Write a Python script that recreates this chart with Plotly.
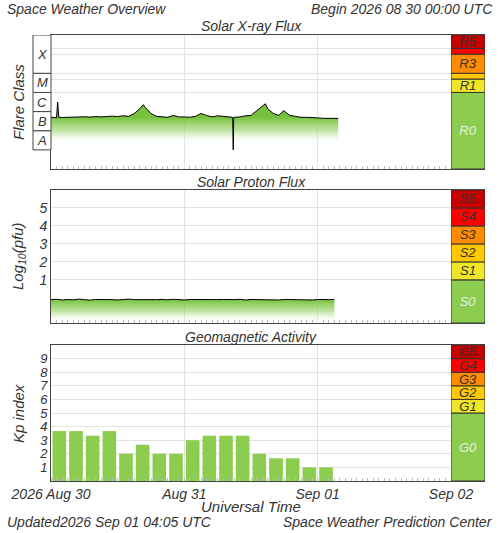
import numpy as np
import pandas as pd
import plotly.graph_objects as go

# ---- data ----
t0 = pd.Timestamp("2026-08-30 00:00")

xray_hours = [0, 1, 1.2, 1.4, 2, 3, 4, 5, 6, 7, 8, 9, 10, 11, 12, 13, 14, 15, 16, 16.6, 17, 18, 19, 20,
              21, 22, 23, 24, 25, 26, 27, 28, 29, 30, 31, 32, 32.7, 32.8, 32.9, 34, 35, 36, 37, 38, 38.6,
              39, 40, 41, 41.9, 42.5, 43, 44, 45, 46, 47, 48, 49, 50, 51, 51.7]
xray_log10 = [-6.30, -6.32, -5.50, -6.30, -6.31, -6.30, -6.28, -6.30, -6.27, -6.29, -6.26, -6.28, -6.25,
              -6.24, -6.26, -6.22, -6.25, -6.10, -5.85, -5.64, -5.80, -6.10, -6.25, -6.27, -6.30, -6.20,
              -6.28, -6.28, -6.30, -6.25, -6.10, -6.20, -6.28, -6.22, -6.25, -6.28, -6.30, -8.00, -6.30,
              -6.28, -6.22, -6.20, -5.95, -5.75, -5.59, -5.85, -6.10, -6.20, -5.95, -6.10, -6.20, -6.25,
              -6.30, -6.30, -6.33, -6.33, -6.35, -6.34, -6.36, -6.36]

proton_hours = list(range(0, 52))
proton_log10 = [-0.10, -0.08, -0.12, -0.09, -0.11, -0.07, -0.10, -0.13, -0.09, -0.08, -0.11, -0.10,
                -0.12, -0.09, -0.07, -0.10, -0.11, -0.08, -0.12, -0.10, -0.09, -0.11, -0.08, -0.10,
                -0.12, -0.09, -0.10, -0.11, -0.08, -0.13, -0.10, -0.09, -0.11, -0.10, -0.08, -0.12,
                -0.09, -0.10, -0.11, -0.08, -0.10, -0.12, -0.09, -0.10, -0.11, -0.08, -0.10, -0.12,
                -0.09, -0.11, -0.10, -0.09]

kp_hours = [1.5 + 3 * i for i in range(17)]
kp_values = [3.67, 3.67, 3.33, 3.67, 2.0, 2.67, 2.0, 2.0, 3.0, 3.33, 3.33, 3.33, 2.0, 1.67, 1.67, 1.0, 1.0]

r_labels = ["R0", "R1", "", "R3", "", "R5"]
r_bounds = [-9, -5, np.log10(5e-5), -4, -3, np.log10(2e-3), -2]
s_labels = ["S0", "S1", "S2", "S3", "S4", "S5"]
s_bounds = [-1.4, 1, 2, 3, 4, 5, 6]
g_labels = ["G0", "G1", "G2", "G3", "G4", "G5"]
g_bounds = [0, 5, 6, 7, 8, 9, 10]
scale_colors = ["#8ccd50", "#f0e628", "#ffc800", "#ff8c00", "#ff0000", "#c80000"]

flare_classes = ["A", "B", "C", "M", "X"]
flare_bounds = [-8, -7, -6, -5, -4, -2]

def hrs(h):
    return [t0 + pd.Timedelta(hours=x) for x in h]

FONT = "Liberation Sans"
TXT = "#333333"
ital = dict(family=FONT, style="italic", color=TXT)
green_fade = [[0, "rgba(255,255,255,0)"], [0.5, "rgba(150,210,100,0.6)"], [1, "rgba(110,190,50,0.95)"]]

fig = go.Figure()

# xray
xt = hrs(xray_hours)
fig.add_trace(go.Scatter(x=xt, y=[-9] * len(xt), mode="lines", line=dict(width=0),
                         showlegend=False, hoverinfo="skip", xaxis="x", yaxis="y"))
fig.add_trace(go.Scatter(x=xt, y=xray_log10, mode="lines", line=dict(color="black", width=1),
                         fill="tonexty",
                         fillgradient=dict(type="vertical", start=-7.7, stop=-6.3, colorscale=green_fade),
                         showlegend=False, xaxis="x", yaxis="y"))

# protons
pt = hrs(proton_hours)
fig.add_trace(go.Scatter(x=pt, y=[-1.4] * len(pt), mode="lines", line=dict(width=0),
                         showlegend=False, hoverinfo="skip", xaxis="x3", yaxis="y3"))
fig.add_trace(go.Scatter(x=pt, y=proton_log10, mode="lines", line=dict(color="black", width=1),
                         fill="tonexty",
                         fillgradient=dict(type="vertical", start=-1.4, stop=-0.1, colorscale=green_fade),
                         showlegend=False, xaxis="x3", yaxis="y3"))

# kp bars
fig.add_trace(go.Bar(x=hrs(kp_hours), y=kp_values, width=2.45 * 3600 * 1000,
                     marker=dict(color="#8ccd50", line=dict(width=0)),
                     showlegend=False, xaxis="x5", yaxis="y5"))

# scale columns
for labels, bounds, xa, ya in [(r_labels, r_bounds, "x2", "y"),
                               (s_labels, s_bounds, "x4", "y3"),
                               (g_labels, g_bounds, "x6", "y5")]:
    for i, lab in enumerate(labels):
        fig.add_trace(go.Bar(x=["s"], y=[bounds[i + 1] - bounds[i]], base=[bounds[i]], width=1,
                             marker=dict(color=scale_colors[i], line=dict(color="#333", width=1)),
                             text=[lab], textposition="inside", insidetextanchor="middle", textangle=0,
                             textfont=dict(family=FONT, style="italic", size=13,
                                           color="#e8f0e0" if i == 0 else "#333"),
                             showlegend=False, xaxis=xa, yaxis=ya))

split = 400 / 434
doms = {"": [312 / 446, 1], "3": [158 / 446, 291 / 446], "5": [0, 136 / 446]}
xrange_ = [t0, t0 + pd.Timedelta(days=3)]
common_x = dict(type="date", range=xrange_, showgrid=True, gridcolor="#e2e2e2", dtick=86400000,
                showline=True, linecolor="#444", mirror=True, ticks="", automargin=False,
                minor=dict(ticks="inside", ticklen=3, tickcolor="#bbb", dtick=3600000, showgrid=False),
                zeroline=False)
layout = dict(width=500, height=533, margin=dict(l=51, r=15, t=35, b=52, autoexpand=False),
              plot_bgcolor="white", paper_bgcolor="white", barmode="overlay",
              uniformtext=dict(minsize=13, mode="show"),
              font=dict(family=FONT, size=13, color=TXT, style="italic"))
pairs = [("x", "y", "x2", "", "2"), ("x3", "y3", "x4", "3", "4"), ("x5", "y5", "x6", "5", "6")]
for xa, ya, xs, yn, xsn in pairs:
    k = "xaxis" + ("" if xa == "x" else xa[1:])
    layout[k] = dict(common_x, domain=[0, split], anchor=ya, showticklabels=(xa == "x5"))
    layout["xaxis" + xsn] = dict(domain=[split, 1], anchor=ya, showticklabels=False, showgrid=False,
                                 showline=True, linecolor="#444", mirror=True, fixedrange=True,
                                 automargin=False)
layout["xaxis5"].update(tickvals=[t0 + pd.Timedelta(days=d) for d in range(4)],
                        ticktext=["2026 Aug 30", "Aug 31", "Sep 01", "Sep 02"],
                        tickfont=dict(size=14))
layout["yaxis"] = dict(domain=doms[""], range=[-9, -2], tickvals=[-5, np.log10(5e-5), -4, -3, np.log10(2e-3)],
                       showticklabels=False, gridcolor="#e2e2e2", showline=True, linecolor="#444",
                       mirror=True, zeroline=False, automargin=False)
layout["yaxis3"] = dict(domain=doms["3"], range=[-1.4, 6], tickvals=[1, 2, 3, 4, 5],
                        gridcolor="#e2e2e2", showline=True, linecolor="#444", mirror=True,
                        zeroline=False, tickfont=dict(size=14), automargin=False)
layout["yaxis5"] = dict(domain=doms["5"], range=[0, 10], tickvals=list(range(1, 10)),
                        gridcolor="#e2e2e2", showline=True, linecolor="#444", mirror=True,
                        zeroline=False, tickfont=dict(size=13), automargin=False)
fig.update_layout(**layout)

# flare class boxes
bx0 = -18 / 434
for i, c in enumerate(flare_classes):
    fig.add_shape(type="rect", xref="paper", yref="y", x0=bx0, x1=0, y0=flare_bounds[i], y1=flare_bounds[i + 1],
                  line=dict(color="#444", width=1), fillcolor="white")
    fig.add_annotation(xref="paper", yref="y", x=bx0 / 2, y=(flare_bounds[i] + flare_bounds[i + 1]) / 2,
                       xanchor="center", text=c, showarrow=False, font=dict(ital, size=13))

def ann(x, y, text, size=14, xanchor="center", angle=0):
    fig.add_annotation(xref="paper", yref="paper", x=(x - 51) / 434, y=(481 - y) / 446, text=text,
                       showarrow=False, xanchor=xanchor, yanchor="middle", textangle=angle,
                       font=dict(ital, size=size))

ann(5, 9, "Space Weather Overview", 14, "left")
ann(495, 9, "Begin 2026 08 30 00:00 UTC", 14, "right")
ann(251, 26, "Solar X-ray Flux", 14)
ann(251, 182, "Solar Proton Flux", 14)
ann(251, 337, "Geomagnetic Activity", 14)
ann(18, 102, "Flare Class", 15, angle=-90)
ann(18, 256, "Log<sub>10</sub>(pfu)", 15, angle=-90)
ann(18, 414, "Kp index", 15, angle=-90)
ann(251, 506, "Universal Time", 15)
ann(5, 522, "Updated2026 Sep 01 04:05 UTC", 14, "left")
ann(495, 522, "Space Weather Prediction Center", 14, "right")

fig.write_html("out.html", config={"displayModeBar": False},
               post_script="document.body.style.margin='0';")
